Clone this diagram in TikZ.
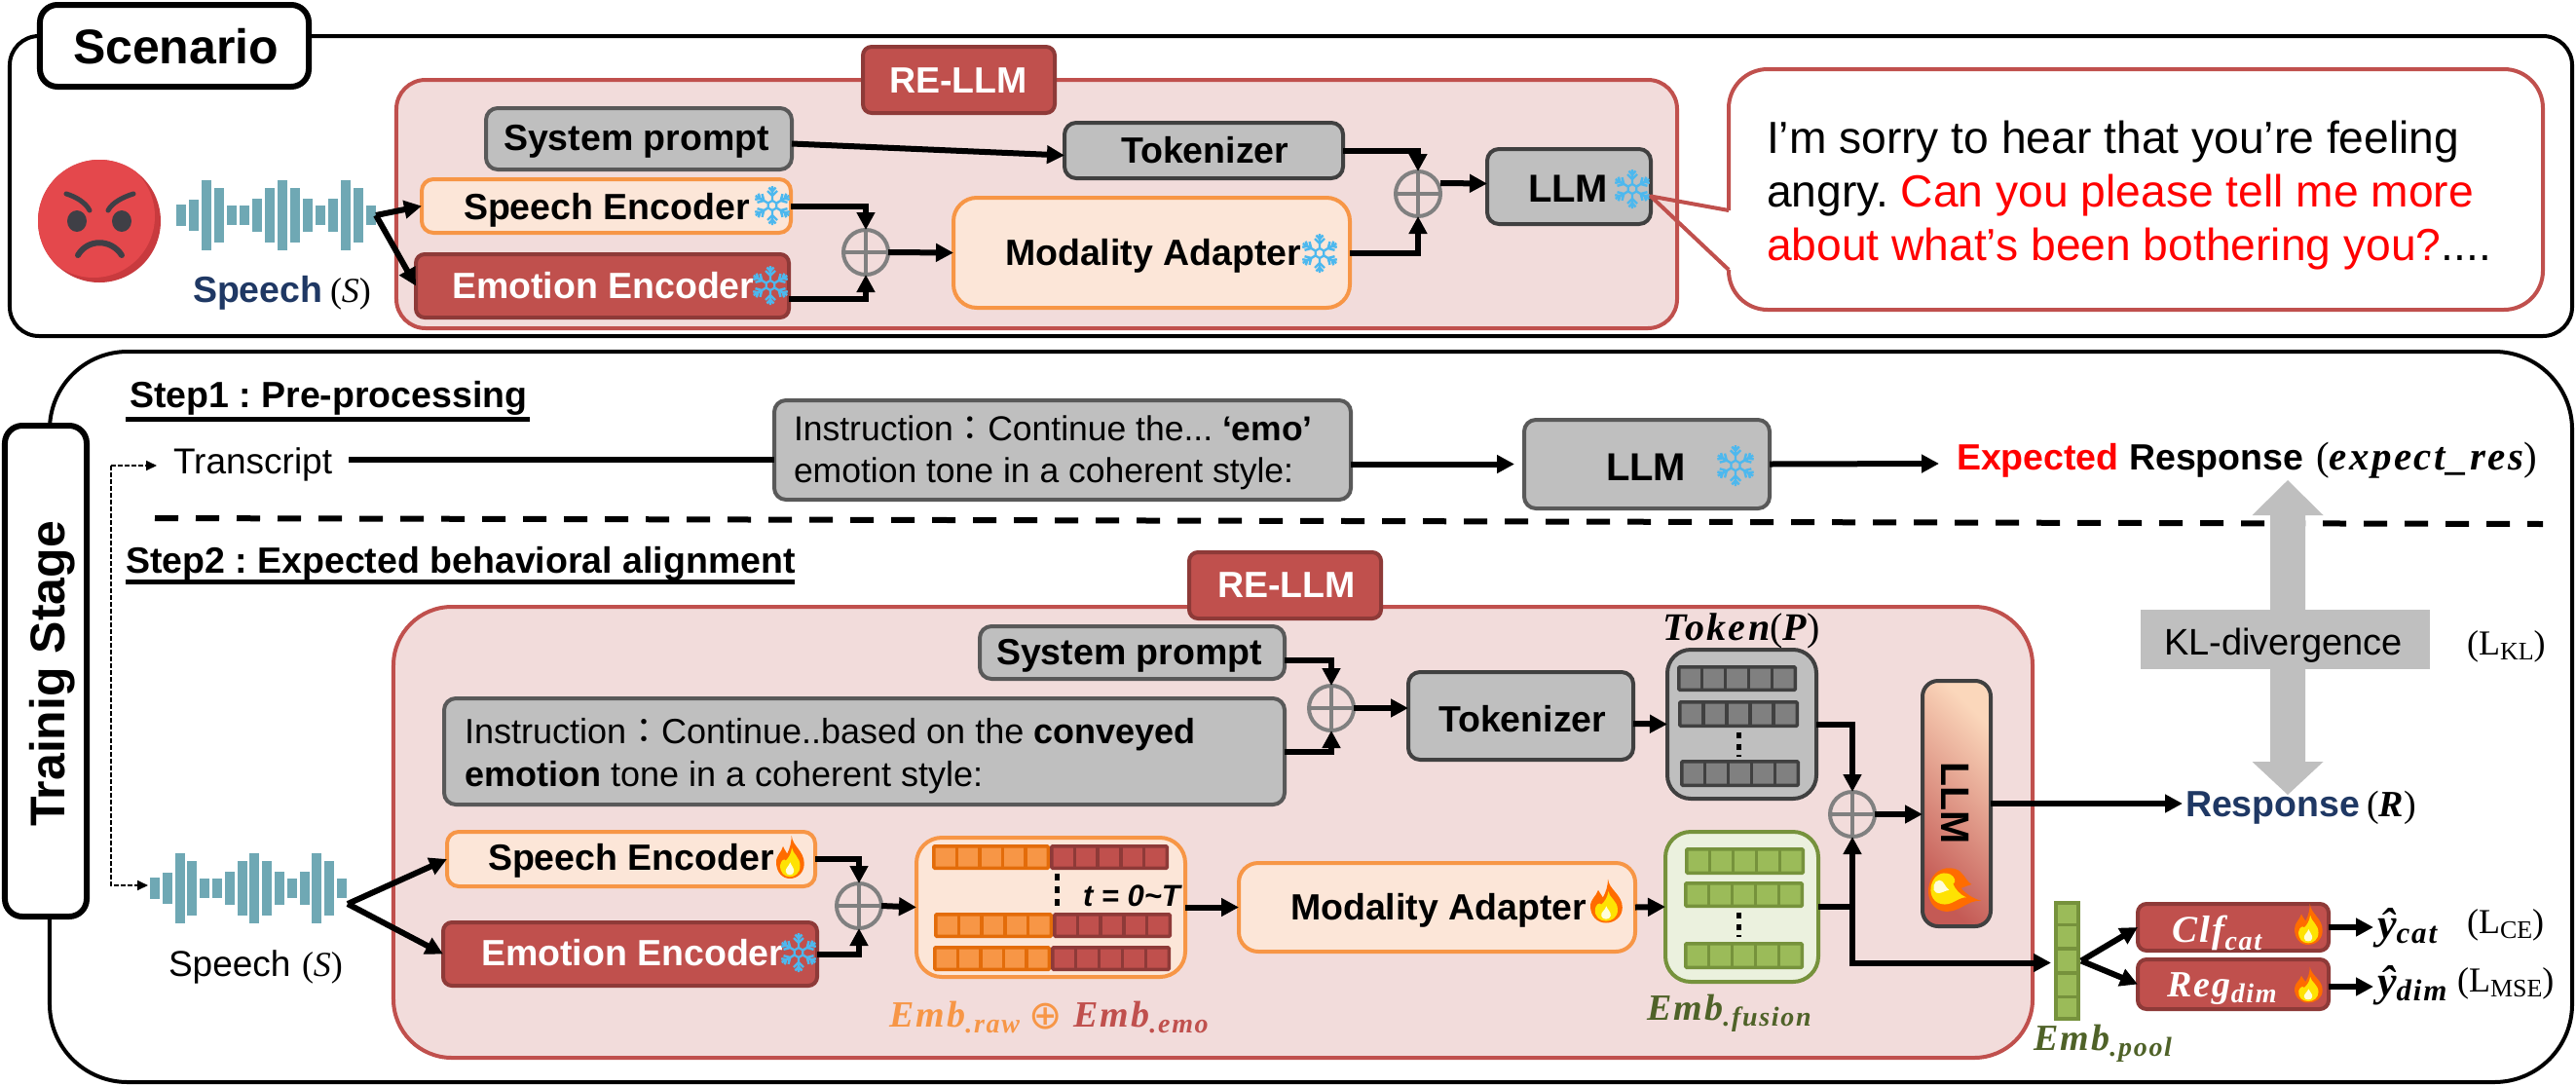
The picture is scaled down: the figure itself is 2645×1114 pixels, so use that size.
\documentclass[tikz,border=0pt]{standalone}
\usepackage{fontspec}
\usetikzlibrary{arrows.meta,calc,shapes.geometric}
\setmainfont{Liberation Sans}
\newfontfamily\serf{Liberation Serif}
\newfontfamily\mif[LetterSpace=6]{Liberation Serif}
\newfontfamily\cjkf{Noto Sans CJK TC}
\newfontfamily\djv{DejaVu Sans}
\AtBeginDocument{\frenchspacing}
\definecolor{redl}{HTML}{C0504D}
\definecolor{redd}{HTML}{8E3A38}
\definecolor{pinkf}{HTML}{F2DCDB}
\definecolor{grayf}{HTML}{BFBFBF}
\definecolor{grayl}{HTML}{595959}
\definecolor{dark}{HTML}{404040}
\definecolor{orl}{HTML}{F79646}
\definecolor{crm}{HTML}{FCE6D8}
\definecolor{orc}{HTML}{E36C0A}
\definecolor{grf}{HTML}{EBF1DE}
\definecolor{grl}{HTML}{76923C}
\definecolor{grc}{HTML}{9BBB59}
\definecolor{grt}{HTML}{4F6228}
\definecolor{navy}{HTML}{1F3864}
\definecolor{teal1}{HTML}{6FA8B4}
\definecolor{snowc}{HTML}{4DB8EE}
\definecolor{facea}{HTML}{E4484C}
\definecolor{faceb}{HTML}{C83A3E}
\definecolor{facec}{HTML}{3F3F46}
\definecolor{llma}{HTML}{C45A55}
\definecolor{llmb}{HTML}{FBD7BB}
\newcommand{\fs}[1]{\fontsize{#1bp}{#1bp}\selectfont}
\newcommand{\mb}{\mif\bfseries\itshape}
\newcommand{\bx}[6]{%
  \pgfmathsetmacro\cxx{(#3+#5)/2}\pgfmathsetmacro\cyy{(#4+#6)/2}%
  \pgfmathsetmacro\ww{#5-#3-4}\pgfmathsetmacro\hh{#6-#4-4}%
  \node[#1,minimum width=\ww bp,minimum height=\hh bp,inner sep=0pt,outer sep=0pt] (#2) at (\cxx,\cyy) {};}
\newcommand{\snow}[3]{%
  \foreach \a in {0,60,...,300}{%
    \begin{scope}[shift={(#1,#2)},rotate=\a,scale={#3/20}]
      \draw[snowc,line width=2.4bp] (0,-5)--(0,-20) (0,-10)--(-5,-15) (0,-10)--(5,-15) (0,-14.5)--(-3.5,-18.5) (0,-14.5)--(3.5,-18.5);
      \draw[snowc,line width=2.2bp] (0,-5)--(4.3,-2.5);
    \end{scope}}}
\newcommand{\flame}[5]{%
  \begin{scope}[shift={(#1,#2)},rotate=#5,xscale={#3/80},yscale={#4/100}]
    \fill[orange!85!red] (5,-50) .. controls (8,-25) and (42,-15) .. (42,15) .. controls (42,38) and (20,50) .. (0,50) .. controls (-22,50) and (-40,35) .. (-40,12) .. controls (-40,-5) and (-25,-10) .. (-20,-25) .. controls (-14,-15) and (-10,-12) .. (-8,-8) .. controls (0,-20) and (5,-35) .. (5,-50) -- cycle;
    \fill[yellow!85!orange] (6,-22) .. controls (8,-8) and (30,0) .. (30,20) .. controls (30,38) and (14,46) .. (0,46) .. controls (-16,46) and (-30,36) .. (-28,18) .. controls (-26,8) and (-16,2) .. (-12,8) .. controls (-4,2) and (4,-8) .. (6,-22) -- cycle;
    \fill[yellow!15] (1,12) .. controls (4,20) and (14,26) .. (12,34) .. controls (10,44) and (-10,44) .. (-12,34) .. controls (-14,26) and (-3,22) .. (1,12) -- cycle;
  \end{scope}}
\newcommand{\wave}[3]{%
  \foreach \h [count=\i] in {11,16,36,28,10,10,17,28,36,28,17,10,17,36,28,10}{%
    \fill[teal1] ({#1+(\i-1)*#3},{#2-\h}) rectangle ++(10,{2*\h});}}
\newcommand{\cells}[6]{%
  \pgfmathsetmacro\xa{#1+1.75}\pgfmathsetmacro\xb{#3-1.75}\pgfmathsetmacro\ya{#2+1.75}\pgfmathsetmacro\yb{#4-1.75}%
  \draw[fill=#5,draw=#6,line width=3.5bp,rounded corners=1bp] (\xa,\ya) rectangle (\xb,\yb);
  \foreach \i in {1,2,3,4}{\draw[#6,line width=3.5bp] ({\xa+(\xb-\xa)*\i/5},\ya) -- ({\xa+(\xb-\xa)*\i/5},\yb);}}
\newcommand{\dotsv}[5]{\draw[black,line width=5bp,dash pattern=on #4bp off #5bp] (#1,#2) -- (#1,#3);}
\tikzset{
  outerb/.style={draw=black,line width=4bp,rounded corners=#1,fill=white},
  tagb/.style={draw=black,line width=6bp,rounded corners=18bp,fill=white},
  bigred/.style={draw=redl,line width=4bp,fill=pinkf,rounded corners=#1},
  redb/.style={draw=redd,line width=4bp,fill=redl,rounded corners=9bp},
  grayb/.style={draw=grayl,line width=4bp,fill=grayf,rounded corners=12bp},
  grayd/.style={draw=dark,line width=4bp,fill=grayf,rounded corners=12bp},
  orb/.style={draw=orl,line width=4bp,fill=crm,rounded corners=#1},
  greenb/.style={draw=grl,line width=4bp,fill=grf,rounded corners=26bp},
  plusn/.style={circle,draw=gray,line width=4bp,minimum size=46bp,inner sep=0pt,outer sep=0pt,
    path picture={\draw[gray,line width=3.5bp] (path picture bounding box.west)--(path picture bounding box.east) (path picture bounding box.north)--(path picture bounding box.south);}},
  arr/.style={draw=black,line width=6bp,-{Triangle[length=18bp,width=18bp]}},
  plain/.style={draw=black,line width=6bp},
  tdash/.style={draw=black,line width=1.8bp,dash pattern=on 5bp off 2bp,-{Triangle[length=11bp,width=10bp]}},
  lbl/.style={anchor=base west,inner sep=0pt,outer sep=0pt,font=\fs{37.5}\bfseries},
  txt/.style={anchor=base west,inner sep=0pt,outer sep=0pt,font=\fs{#1}},
}
\begin{document}
\begin{tikzpicture}[x=1bp,y=-1bp]
\useasboundingbox (0,0) rectangle (2645,1114);
\fill[white] (0,0) rectangle (2645,1114);
% ---------- Scenario ----------
\bx{outerb=30bp}{scen}{8}{35}{2643}{347}
\bx{tagb}{scentag}{39}{3}{319}{91}
\node[lbl,font=\fs{50}\bfseries] (scent) at (75,65) {Scenario};
\bx{bigred=30bp}{re1}{405}{80}{1724}{339}
\bx{redb}{re1tag}{884}{46}{1085}{118}
\node[lbl,text=white] (re1t) at (913,95) {RE-LLM};
% emoji
\fill[faceb] (102,227) circle (63);
\begin{scope}
  \clip (102,227) circle (63);
  \fill[facea] (96,222) circle (63);
\end{scope}
\fill[facec] (79,227) ellipse (10 and 11) (125,227) ellipse (10 and 11);
\draw[facec,line width=5bp,line cap=round] (68,199) .. controls (78,202) and (88,208) .. (92,216);
\draw[facec,line width=5bp,line cap=round] (137,199) .. controls (127,202) and (115,208) .. (111,216);
\draw[facec,line width=6bp,line cap=round] (80,262) .. controls (90,245) and (114,245) .. (125,262);
% wave
\wave{181}{221}{13}
\coordinate (w1) at (386,221);
\node[lbl,text=navy] (sp1) at (198,310) {Speech};
\node[txt=36] (sp1s) at (339,310) {\serf(\textit{S})};
% boxes
\bx{grayb}{sys1}{497}{109}{815}{176}
\node[lbl] (sys1t) at (517,154) {System prompt};
\bx{orb=12bp}{se1}{431}{182}{814}{241}
\node[lbl] (se1t) at (476,225) {Speech Encoder};
\snow{793}{211}{20}
\bx{redb}{ee1}{425}{259}{812}{328}
\node[lbl,text=white] (ee1t) at (464,306) {Emotion Encoder};
\snow{791}{293}{20}
\bx{grayd}{tok1}{1091}{124}{1381}{185}
\node[lbl] (tok1t) at (1151,167) {Tokenizer};
\bx{orb=24bp}{ma1}{977}{201}{1388}{318}
\node[lbl] (ma1t) at (1032,272) {Modality Adapter};
\snow{1355}{260}{20}
\node[plusn] (p1) at (889,259) {};
\node[plusn] (p2) at (1456,199) {};
\bx{grayd}{llm1}{1525}{151}{1697}{232}
\node[lbl,font=\fs{40}\bfseries] (llm1t) at (1569,207) {LLM};
\snow{1676}{194}{20}
% bubble
\fill[white,rounded corners=40bp] (1775,71) rectangle (2611,318);
\draw[draw=redl,line width=4bp,rounded corners=40bp] (1775,216) -- (1775,71) -- (2611,71) -- (2611,318) -- (1775,318) -- (1775,277);
\draw[draw=redl,line width=4bp,line join=round] (1775,216) -- ([yshift=-10bp]llm1.east) -- (1775,277);
\node[txt=46.2] (b1) at (1814,157) {I’m sorry to hear that you’re feeling};
\node[txt=46.2] (b2) at (1814,212) {angry. \textcolor{red}{Can you please tell me more}};
\node[txt=46.2] (b3) at (1814,267) {\textcolor{red}{about what’s been bothering you?}....};
% connectors
\draw[arr] (w1) -- (se1.west);
\draw[arr] (w1) -- (ee1.west);
\draw[arr] ([yshift=-5bp]sys1.east) -- ([yshift=-5bp]tok1.west);
\draw[arr] (se1.east) -| (p1.north);
\draw[arr] ([yshift=-13bp]ee1.east) -| (p1.south);
\draw[arr] (p1.east) -- (ma1.west);
\draw[arr] (tok1.east) -| (p2.north);
\draw[arr] (ma1.east) -| (p2.south);
\draw[arr] ([yshift=11bp]p2.east) -- ([yshift=3bp]llm1.west);
% ---------- Training ----------
\bx{outerb=80bp}{train}{49}{359}{2643}{1113}
\bx{tagb}{traintag}{3}{435}{91}{943}
\node[anchor=base,rotate=90,inner sep=0pt,font=\fs{50}\bfseries] (traint) at (66,692) {Trainig Stage};
\node[lbl] (st1) at (133,418) {Step1 : Pre-processing};
\draw[line width=5bp] (129,430) -- (544,430);
\node[lbl] (st2) at (129,588) {Step2 : Expected behavioral alignment};
\draw[line width=5bp] (129,597) -- (816,597);
\node[txt=37] (trn) at (178,486) {Transcript};
\coordinate (trnout) at (358,472);
\bx{grayb}{ins1}{793}{409}{1389}{515}
\node[txt=35.5] (ins1a) at (815,452) {Instruction{\cjkf ：}Continue the... \textbf{‘emo’}};
\node[txt=35.5] (ins1b) at (815,495) {emotion tone in a coherent style:};
\bx{grayb}{llm2}{1563}{429}{1819}{524}
\node[lbl,font=\fs{40}\bfseries] (llm2t) at (1649,493) {LLM};
\snow{1782}{478}{21}
\node[lbl] (exp) at (2009,482) {\textcolor{red}{Expected} Response};
\node[txt=41] (expm) at (2378,482) {{\serf(}{\mb expect\_res}{\serf)}};
\coordinate (expin) at (1991,476);
\draw[plain] (trnout) -- (trnout -| ins1.west);
\draw[arr] (ins1.east |- llm2.west) -- ([xshift=-10bp]llm2.west);
\draw[arr] (llm2.east) -- (expin);
% dashed divider
\coordinate (da) at (159,532);
\coordinate (db) at (2611,538);
\draw[black,line width=6bp,dash pattern=on 24bp off 18bp] (da) -- (db);
% RE-LLM lower
\bx{bigred=60bp}{re2}{402}{621}{2089}{1088}
\bx{redb}{re2tag}{1219}{565}{1420}{637}
\node[lbl,text=white] (re2t) at (1250,613) {RE-LLM};
\bx{grayb}{sys2}{1004}{641}{1321}{699}
\node[lbl] (sys2t) at (1023,682) {System prompt};
\bx{grayb}{ins2}{454}{715}{1321}{828}
\node[txt=36] (ins2a) at (477,763) {Instruction{\cjkf ：}Continue..based on the \textbf{conveyed}};
\node[txt=36] (ins2b) at (477,807) {\textbf{emotion} tone in a coherent style:};
\node[plusn] (p3) at (1367,727) {};
\bx{grayd}{tok2}{1444}{688}{1679}{782}
\node[lbl] (tok2t) at (1477,751) {Tokenizer};
% token box
\node[txt=40] (tokl) at (1707,657) {{\mb Token}{\serf(}{\mb P}{\serf)}};
\bx{draw=dark,line width=4bp,fill=grayf,rounded corners=24bp}{tokb}{1710}{665}{1867}{822}
\cells{1722}{683}{1845}{710}{gray}{dark}
\cells{1723}{719}{1847}{747}{gray}{dark}
\dotsv{1785}{752}{777}{6}{5.5}
\cells{1725}{780}{1848}{808}{gray}{dark}
% fusion box
\bx{greenb}{fus}{1708}{852}{1869}{1010}
\cells{1730}{870}{1853}{898}{grc}{grl}
\cells{1729}{905}{1852}{932}{grc}{grl}
\dotsv{1785}{937}{962}{6}{5.5}
\cells{1729}{967}{1852}{995}{grc}{grl}
\node[txt=38,text=grt] (fusl) at (1691,1047) {{\mb Emb}\raisebox{-6bp}{\mb\fs{28}.fusion}};
% concat box
\bx{orb=26bp}{conc}{939}{858}{1219}{1005}
\cells{957}{867}{1078}{893}{orl}{orc}
\cells{1078}{867}{1200}{893}{redl}{redd}
\dotsv{1085}{897}{930}{7}{6}
\cells{959}{937}{1081}{963}{orl}{orc}
\cells{1081}{937}{1203}{963}{redl}{redd}
\cells{958}{971}{1079}{997}{orl}{orc}
\cells{1079}{971}{1202}{997}{redl}{redd}
\node[txt=31,font=\fs{31}\bfseries\itshape] (tt) at (1112,930) {t = 0\textasciitilde T};
\node[txt=38,text=orl] (eraw) at (913,1054) {{\mb Emb}\raisebox{-6bp}{\mb\fs{28}.raw}};
\node[txt=41,text=orl] (eop) at (1056,1056) {\djv ⊕};
\node[txt=38,text=redl] (eemo) at (1102,1054) {{\mb Emb}\raisebox{-6bp}{\mb\fs{28}.emo}};
% encoders lower
\wave{154}{912}{12.8}
\coordinate (w2) at (357,928);
\node[txt=37] (sp2) at (173,1002) {Speech};
\node[txt=36] (sp2s) at (310,1002) {\serf(\textit{S})};
\bx{orb=12bp}{se2}{457}{852}{839}{912}
\node[lbl] (se2t) at (501,893) {Speech Encoder};
\flame{811}{880}{28}{44}{0}
\bx{redb}{ee2}{453}{945}{841}{1014}
\node[lbl,text=white] (ee2t) at (494,991) {Emotion Encoder};
\snow{820}{978}{20}
\node[plusn] (p5) at (882,930) {};
\bx{orb=20bp}{ma2}{1270}{884}{1681}{979}
\node[lbl] (ma2t) at (1325,944) {Modality Adapter};
\flame{1649}{925}{32}{45}{0}
\node[plusn] (p4) at (1902,836) {};
% tall LLM
\bx{draw=dark,line width=4bp,rounded corners=16bp,top color=llma,bottom color=llmb,shading angle=135}{llmt}{1972}{697}{2046}{953}
\node[rotate=-90,inner sep=0pt,font=\fs{41}\bfseries] (llmtt) at (2008,825) {LLM};
\flame{2008}{915}{44}{56}{-105}
% pool
\bx{draw=grl,line width=3.5bp,fill=grc}{pool}{2109}{925}{2136}{1048}
\foreach \k in {1,2,3,4}{\draw[grl,line width=3.5bp] (2109,{925+\k*24.6}) -- (2136,{925+\k*24.6});}
\node[txt=38,text=grt] (pooll) at (2088,1078) {{\mb Emb}\raisebox{-6bp}{\mb\fs{28}.pool}};
% classifier heads
\bx{redb}{clf}{2193}{926}{2393}{978}
\node[txt=39,text=white] (clft) at (2230,967) {{\mb Clf}\raisebox{-8bp}{\mb\fs{28}cat}};
\flame{2370}{949}{28}{42}{0}
\bx{redb}{reg}{2193}{983}{2393}{1038}
\node[txt=38,text=white] (regt) at (2225,1023) {{\mb Reg}\raisebox{-6bp}{\mb\fs{28}dim}};
\flame{2370}{1011}{28}{37}{0}
\coordinate (ycin) at (2437,952);
\coordinate (ydin) at (2437,1013);
\node[txt=44] (ycat) at (2441,963) {{\mb ŷ}\raisebox{-5bp}{\mb\fs{31}cat}};
\node[txt=44] (ydim) at (2441,1022) {{\mb ŷ}\raisebox{-5bp}{\mb\fs{31}dim}};
\node[txt=36] (lce) at (2533,958) {\serf(L\raisebox{-5bp}{\fs{26}CE})};
\node[txt=36] (lmse) at (2523,1018) {\serf(L\raisebox{-5bp}{\fs{26}MSE})};
% response
\node[lbl,text=navy] (resp) at (2244,838) {Response};
\node[txt=38] (respr) at (2430,838) {{\serf(}{\mb R}{\serf)}};
\coordinate (respin) at (2241,825);
% gray double arrow
\coordinate (klup) at (2349,493);
\coordinate (kldn) at (2349,816);
\fill[grayf] (klup) -- ++(36.5,36) -- ++(-18.5,0) -- ++(0,110) -- ++(-36,0) -- ++(0,-110) -- ++(-18.5,0) -- cycle;
\fill[grayf] (kldn) -- ++(36.5,-34) -- ++(-18.5,0) -- ++(0,-110) -- ++(-36,0) -- ++(0,110) -- ++(-18.5,0) -- cycle;
\bx{draw=none,fill=grayf}{kl}{2196}{624}{2497}{689}
\node[txt=38] (klt) at (2222,672) {KL-divergence};
\node[txt=36] (lkl) at (2533,672) {\serf(L\raisebox{-5bp}{\fs{26}KL})};
% lower connectors
\coordinate (dv) at (114,478);
\coordinate (trnin) at (161,478);
\coordinate (wavin) at (152,909);
\draw[tdash] (dv) -- (trnin);
\draw[tdash] (dv) |- (wavin);
\draw[arr] (w2) -- (se2.west);
\draw[arr] (w2) -- (ee2.west);
\draw[arr] (se2.east) -| (p5.north);
\draw[arr] (ee2.east) -| (p5.south);
\draw[arr] (p5.east) -- (conc.west);
\draw[arr] (conc.east) -- (ma2.west);
\draw[arr] (ma2.east) -- (fus.west);
\draw[arr] ([yshift=-8bp]sys2.east) -| (p3.north);
\draw[arr] (ins2.east) -| (p3.south);
\draw[arr] (p3.east) -- (p3.east -| tok2.west);
\draw[arr] ([yshift=-8bp]tok2.east) -- (tokb.west);
\draw[arr] (tokb.east) -| (p4.north);
\draw[arr] (fus.east) -| (p4.south);
\draw[arr] (fus.east -| p4.south) |- ([xshift=-5bp,yshift=-2bp]pool.west);
\draw[arr] (p4.east) -- (p4.east -| llmt.west);
\draw[arr] (llmt.east) -- (respin);
\draw[arr] ([xshift=3bp]pool.east) -- (clf.west);
\draw[arr] ([xshift=3bp]pool.east) -- (reg.west);
\draw[arr] (clf.east) -- (ycin);
\draw[arr] (reg.east |- ydin) -- (ydin);
\end{tikzpicture}
\end{document}
